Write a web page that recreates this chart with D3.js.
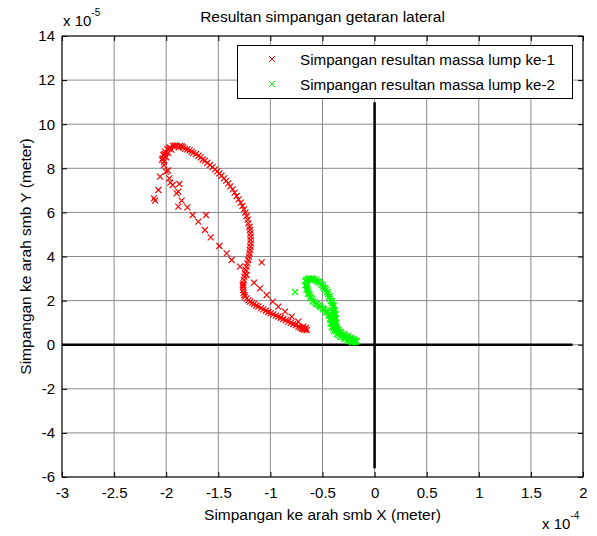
<!DOCTYPE html>
<html>
<head>
<meta charset="utf-8">
<script src="https://cdn.jsdelivr.net/npm/d3@7"></script>
<style>
  body { margin: 0; background: #fff; }
  text { font-family: "Liberation Sans", Arial, sans-serif; fill: #000; }
</style>
</head>
<body>
<svg id="chart" width="597" height="536"></svg>
<script>
// axis ticks (x in 1e-4 m, y in 1e-5 m)
var xTicks = [-3, -2.5, -2, -1.5, -1, -0.5, 0, 0.5, 1, 1.5, 2];
var yTicks = [-6, -4, -2, 0, 2, 4, 6, 8, 10, 12, 14];

// reference lines through the origin
var zeroLineX = [-3, 1.9];
var zeroLineY = [11, -5.6];

// lump 1 (red): inner return path, loop, outer path
var lump1 = [
  [-0.684, 0.818], [-0.732, 1.045], [-0.796, 1.271], [-0.860, 1.498], [-0.924, 1.725],
  [-0.978, 1.951], [-1.036, 2.254], [-1.100, 2.556], [-1.157, 2.813], [-1.228, 3.161],
  [-1.292, 3.539], [-1.372, 3.841], [-1.420, 4.144], [-1.490, 4.476], [-1.573, 4.869],
  [-1.628, 5.202], [-1.692, 5.580], [-1.746, 5.882], [-1.797, 6.230], [-1.852, 6.532],
  [-1.900, 6.865], [-1.938, 7.243], [-1.970, 7.545], [-2.002, 7.848], [-2.021, 8.150],
  [-2.034, 8.452], [-2.027, 8.603], [-2.011, 8.754], [-1.989, 8.860], [-1.964, 8.951],
  [-1.932, 9.011], [-1.900, 9.026], [-1.868, 9.011], [-1.836, 8.951], [-1.797, 8.860],
  [-1.756, 8.754], [-1.714, 8.649], [-1.669, 8.497], [-1.628, 8.346], [-1.580, 8.150],
  [-1.532, 7.953], [-1.490, 7.772], [-1.445, 7.545], [-1.404, 7.318], [-1.362, 7.046],
  [-1.324, 6.744], [-1.285, 6.441], [-1.253, 6.139], [-1.228, 5.837], [-1.212, 5.504],
  [-1.196, 5.202], [-1.189, 4.899], [-1.189, 4.597], [-1.196, 4.295], [-1.205, 3.992],
  [-1.221, 3.690], [-1.237, 3.388], [-1.250, 3.085], [-1.260, 2.783], [-1.260, 2.481],
  [-1.250, 2.254], [-1.228, 2.103], [-1.196, 1.951], [-1.157, 1.846], [-1.116, 1.725],
  [-1.068, 1.604], [-1.020, 1.483], [-0.972, 1.377], [-0.924, 1.271], [-0.876, 1.166],
  [-0.828, 1.045], [-0.780, 0.939], [-0.732, 0.818], [-0.700, 0.742], [-0.668, 0.697],
  [-0.652, 0.667],
  // dense strokes on the loop top and right side
  [-2.020, 8.300], [-2.000, 8.500], [-1.980, 8.700], [-1.950, 8.850], [-1.880, 8.950],
  [-1.820, 8.880], [-1.740, 8.700], [-1.650, 8.400], [-1.555, 8.050], [-1.470, 7.660],
  [-1.385, 7.180], [-1.305, 6.590], [-1.240, 5.990], [-1.200, 5.350], [-1.190, 4.750],
  [-1.200, 4.140], [-1.230, 3.540], [-1.255, 2.930], [-1.262, 2.630], [-1.245, 2.180],
  [-1.175, 1.900], [-1.090, 1.660], [-0.996, 1.430], [-0.900, 1.220], [-0.804, 0.990],
  [-0.716, 0.780], [-0.690, 0.720],
  [-2.040, 8.380], [-2.015, 8.650], [-1.975, 8.900], [-1.915, 9.030], [-1.850, 8.990],
  [-1.775, 8.810], [-1.690, 8.570], [-1.605, 8.250], [-1.510, 7.860], [-1.425, 7.430],
  [-1.343, 6.900], [-1.268, 6.290], [-1.218, 5.670], [-1.192, 5.050], [-1.192, 4.440],
  [-1.212, 3.840], [-1.244, 3.230], [-1.265, 2.700], [-1.257, 2.350], [-1.210, 2.020],
  [-1.135, 1.780], [-1.045, 1.540], [-0.948, 1.320], [-0.852, 1.110], [-0.756, 0.880],
  [-0.676, 0.700], [-0.660, 0.760], [-0.690, 0.800],
  // scattered points
  [-2.107, 6.532], [-2.117, 6.638], [-2.075, 7.016], [-2.059, 7.620], [-1.874, 7.288],
  [-1.884, 6.940], [-1.884, 6.260], [-1.618, 5.882], [-1.084, 3.735], [-1.985, 7.900],
  [-1.960, 7.350]
];

// lump 2 (green): small loop and tail
var lump2 = [
  [-0.658, 2.904], [-0.636, 2.964], [-0.604, 2.979], [-0.572, 2.934], [-0.540, 2.843],
  [-0.508, 2.707], [-0.482, 2.556], [-0.460, 2.375], [-0.438, 2.178], [-0.418, 1.982],
  [-0.402, 1.770], [-0.393, 1.573], [-0.386, 1.377], [-0.383, 1.180], [-0.380, 0.999],
  [-0.374, 0.818], [-0.358, 0.666], [-0.332, 0.545], [-0.300, 0.440], [-0.268, 0.364],
  [-0.236, 0.289], [-0.204, 0.213], [-0.179, 0.137],
  [-0.652, 2.753], [-0.646, 2.556], [-0.633, 2.360], [-0.614, 2.178], [-0.588, 1.997],
  [-0.556, 1.846], [-0.518, 1.725], [-0.482, 1.604], [-0.450, 1.468], [-0.428, 1.316],
  [-0.415, 1.120], [-0.406, 0.923], [-0.396, 0.742], [-0.370, 0.591], [-0.339, 0.440],
  [-0.300, 0.334], [-0.262, 0.243], [-0.223, 0.168], [-0.191, 0.107],
  [-0.650, 2.950], [-0.620, 2.980], [-0.588, 2.960], [-0.556, 2.890], [-0.524, 2.780],
  [-0.495, 2.630], [-0.470, 2.470], [-0.448, 2.280], [-0.428, 2.080], [-0.410, 1.880],
  [-0.398, 1.670], [-0.390, 1.480], [-0.384, 1.280], [-0.382, 1.090], [-0.377, 0.910],
  [-0.366, 0.740], [-0.345, 0.600], [-0.316, 0.490], [-0.284, 0.400], [-0.252, 0.330],
  [-0.220, 0.250], [-0.190, 0.170],
  [-0.655, 2.850], [-0.650, 2.650], [-0.640, 2.460], [-0.624, 2.270], [-0.601, 2.090],
  [-0.572, 1.920], [-0.537, 1.790], [-0.500, 1.660], [-0.466, 1.540], [-0.439, 1.390],
  [-0.421, 1.220], [-0.410, 1.020], [-0.401, 0.830], [-0.383, 0.660], [-0.354, 0.510],
  [-0.320, 0.390], [-0.281, 0.290], [-0.242, 0.200], [-0.207, 0.140],
  [-0.664, 2.880], [-0.662, 2.700], [-0.655, 2.500], [-0.640, 2.300], [-0.620, 2.120],
  [-0.595, 1.960], [-0.562, 1.830], [-0.526, 1.720], [-0.492, 1.610], [-0.462, 1.470],
  [-0.442, 1.310], [-0.430, 1.140], [-0.422, 0.960], [-0.410, 0.790], [-0.392, 0.620],
  [-0.362, 0.470], [-0.326, 0.350], [-0.290, 0.250], [-0.250, 0.160], [-0.215, 0.100],
  [-0.630, 3.010], [-0.598, 3.010], [-0.566, 2.960], [-0.533, 2.870], [-0.500, 2.730],
  [-0.473, 2.570], [-0.450, 2.390], [-0.428, 2.190], [-0.408, 1.990], [-0.392, 1.780],
  [-0.381, 1.580], [-0.374, 1.380], [-0.371, 1.180], [-0.369, 1.000], [-0.362, 0.830],
  [-0.346, 0.690], [-0.322, 0.580], [-0.290, 0.480], [-0.258, 0.400], [-0.226, 0.320],
  [-0.194, 0.240], [-0.170, 0.170],
  [-0.764, 2.390]
];

var seriesNames = ["Simpangan resultan massa lump ke-1", "Simpangan resultan massa lump ke-2"];
var seriesColors = ["#ff0000", "#00ff00"];

var svg = d3.select("#chart");

var x = d3.scaleLinear().domain([-3, 2]).range([62, 583]);
var y = d3.scaleLinear().domain([-6, 14]).range([477, 36]);

// grid
svg.append("g").selectAll("line").data(xTicks).enter().append("line")
  .attr("x1", function(d) { return x(d); }).attr("x2", function(d) { return x(d); })
  .attr("y1", y(-6)).attr("y2", y(14))
  .attr("stroke", "#8a8a8a").attr("stroke-width", 1);
svg.append("g").selectAll("line").data(yTicks).enter().append("line")
  .attr("x1", x(-3)).attr("x2", x(2))
  .attr("y1", function(d) { return y(d); }).attr("y2", function(d) { return y(d); })
  .attr("stroke", "#8a8a8a").attr("stroke-width", 1);

// zero lines
svg.append("line")
  .attr("x1", x(zeroLineX[0])).attr("x2", x(zeroLineX[1]))
  .attr("y1", y(0)).attr("y2", y(0))
  .attr("stroke", "#000").attr("stroke-width", 2.5);
svg.append("line")
  .attr("x1", x(0)).attr("x2", x(0))
  .attr("y1", y(zeroLineY[0])).attr("y2", y(zeroLineY[1]))
  .attr("stroke", "#000").attr("stroke-width", 2.5);

// x markers
var cross = "M-3,-3L3,3M-3,3L3,-3";
function drawSeries(data, color) {
  svg.append("g").selectAll("path").data(data).enter().append("path")
    .attr("d", cross)
    .attr("transform", function(d) { return "translate(" + x(d[0]) + "," + y(d[1]) + ")"; })
    .attr("fill", "none").attr("stroke", color).attr("stroke-width", 1.2);
}
drawSeries(lump1, seriesColors[0]);
drawSeries(lump2, seriesColors[1]);

// axes with inward ticks on all sides
var axB = d3.axisBottom(x).tickValues(xTicks).tickSize(-5).tickPadding(10)
  .tickFormat(function(d) { return String(d); });
var axT = d3.axisTop(x).tickValues(xTicks).tickSize(-5).tickFormat("");
var axL = d3.axisLeft(y).tickValues(yTicks).tickSize(-5).tickPadding(7)
  .tickFormat(function(d) { return String(d); });
var axR = d3.axisRight(y).tickValues(yTicks).tickSize(-5).tickFormat("");

function styleAxis(g) {
  g.select(".domain").remove();
  g.selectAll(".tick line").attr("stroke", "#000");
  g.selectAll("text").style("font-size", "15px").attr("fill", "#000")
    .style("font-family", "'Liberation Sans', Arial, sans-serif");
}
svg.append("g").attr("transform", "translate(0," + y(-6) + ")").call(axB).call(styleAxis);
svg.append("g").attr("transform", "translate(0," + y(14) + ")").call(axT).call(styleAxis);
svg.append("g").attr("transform", "translate(" + x(-3) + ",0)").call(axL).call(styleAxis);
svg.append("g").attr("transform", "translate(" + x(2) + ",0)").call(axR).call(styleAxis);

// box
svg.append("rect")
  .attr("x", x(-3)).attr("y", y(14))
  .attr("width", x(2) - x(-3)).attr("height", y(-6) - y(14))
  .attr("fill", "none").attr("stroke", "#000").attr("stroke-width", 1);

// exponent labels
var ex = svg.append("text").attr("x", 63).attr("y", 26).style("font-size", "15px");
ex.append("tspan").text("x 10");
ex.append("tspan").attr("dy", -10).style("font-size", "10px").text("-5");
var ex2 = svg.append("text").attr("x", 542).attr("y", 529).style("font-size", "15px");
ex2.append("tspan").text("x 10");
ex2.append("tspan").attr("dy", -10).style("font-size", "10px").text("-4");

// title and axis labels
svg.append("text").attr("x", 322.5).attr("y", 22).attr("text-anchor", "middle")
  .style("font-size", "15.5px").text("Resultan simpangan getaran lateral");
svg.append("text").attr("x", 322.5).attr("y", 520).attr("text-anchor", "middle")
  .style("font-size", "15.5px").text("Simpangan ke arah smb X (meter)");
svg.append("text").attr("transform", "translate(31,256.5) rotate(-90)").attr("text-anchor", "middle")
  .style("font-size", "15.5px").text("Simpangan ke arah smb Y (meter)");

// legend
var lg = svg.append("g");
lg.append("rect").attr("x", 237.5).attr("y", 45.5).attr("width", 335).attr("height", 53)
  .attr("fill", "#fff").attr("stroke", "#000").attr("stroke-width", 1);
seriesNames.forEach(function(name, i) {
  var cy = 59 + i * 25;
  lg.append("path").attr("d", cross).attr("transform", "translate(272," + cy + ")")
    .attr("fill", "none").attr("stroke", seriesColors[i]).attr("stroke-width", 1);
  lg.append("text").attr("x", 300).attr("y", cy + 5.5).style("font-size", "15.2px").text(name);
});
</script>
</body>
</html>
